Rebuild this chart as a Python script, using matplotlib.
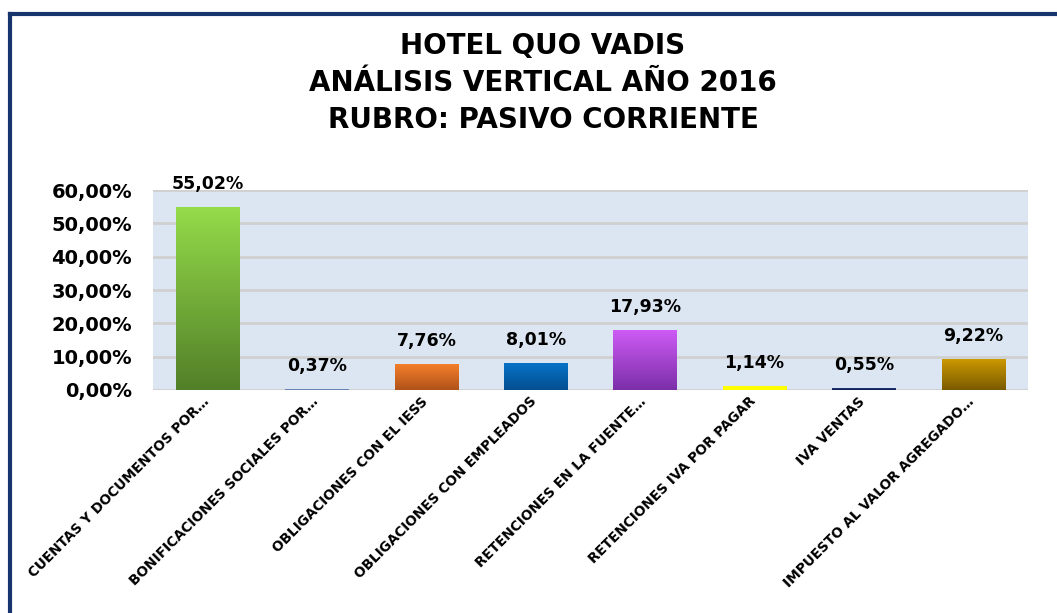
import matplotlib
matplotlib.use("Agg")
import matplotlib.pyplot as plt
import matplotlib.transforms as mtransforms
import numpy as np
from matplotlib.colors import LinearSegmentedColormap
from matplotlib.lines import Line2D
from matplotlib.ticker import FuncFormatter

categories = [
    "CUENTAS Y DOCUMENTOS POR…",
    "BONIFICACIONES SOCIALES POR…",
    "OBLIGACIONES CON EL IESS",
    "OBLIGACIONES CON EMPLEADOS",
    "RETENCIONES EN LA FUENTE…",
    "RETENCIONES IVA POR PAGAR",
    "IVA VENTAS",
    "IMPUESTO AL VALOR AGREGADO…",
]
values = [55.02, 0.37, 7.76, 8.01, 17.93, 1.14, 0.55, 9.22]
labels = ["55,02%", "0,37%", "7,76%", "8,01%", "17,93%", "1,14%", "0,55%", "9,22%"]
top_colors = ["#95DC4A", "#7F9CC8", "#F47F2A", "#0872C8", "#CE5BF5", "#FFFF00", "#1F3A7A", "#CC9900"]
bottom_colors = ["#527F28", "#5F7FB0", "#B0521A", "#044F8F", "#7B2FA8", "#FFFF00", "#0F2050", "#7A5A00"]

plt.rcParams['font.family'] = ['DejaVu Sans']

fig = plt.figure(figsize=(10.57, 6.13), dpi=100)
ax = fig.add_axes([153/1057, 1-390/613, (1028-153)/1057, 200/613])
ax.set_facecolor("#DCE6F2")

x = np.arange(len(categories))
bars = ax.bar(x, values, width=0.58, color=top_colors, zorder=3)

grad = np.linspace(1, 0, 256).reshape(-1, 1)
for b, tc, bc in zip(bars, top_colors, bottom_colors):
    cmap = LinearSegmentedColormap.from_list("g", [bc, tc])
    x0, y0 = b.get_x(), b.get_y()
    w, h = b.get_width(), b.get_height()
    im = ax.imshow(grad, cmap=cmap, aspect="auto", extent=(x0, x0 + w, y0, y0 + h),
                   zorder=4, vmin=0, vmax=1)
    im.set_clip_path(b)

ax.set_xlim(-0.5, len(categories) - 0.5)
ax.set_ylim(0, 60)

for xi, v, lab in zip(x, values, labels):
    ax.annotate(lab, (xi, v), xytext=(0, 10), textcoords="offset points",
                ha="center", va="bottom", fontsize=12.5, fontweight="bold", color="#000000")

ax.set_yticks(np.arange(0, 61, 10))
ax.yaxis.set_major_formatter(FuncFormatter(lambda v, p: f"{v:.2f}".replace(".", ",") + "%"))
ax.yaxis.grid(True, color="#D0D0D0", linewidth=2, zorder=0)
ax.set_axisbelow(True)
for lbl in ax.get_yticklabels():
    lbl.set_fontsize(14)
    lbl.set_fontweight("bold")
ax.tick_params(axis="y", length=0, pad=15)
ax.tick_params(axis="x", length=0, pad=3)
ax.set_xticks(x)
ax.set_xticklabels(categories, rotation=45, ha="right", va="top", rotation_mode="anchor",
                   fontsize=9.8, fontweight="bold")
offset = mtransforms.ScaledTranslation(-6/100, 0, fig.dpi_scale_trans)
for lbl in ax.get_xticklabels():
    lbl.set_transform(lbl.get_transform() + offset)
for s in ax.spines.values():
    s.set_visible(False)
ax.axhline(0, color="#D0D0D0", linewidth=2, zorder=2)

fig.text(543/1057, 1 - 83/613, "HOTEL QUO VADIS\nANÁLISIS VERTICAL AÑO 2016\nRUBRO: PASIVO CORRIENTE",
         ha="center", va="center", fontsize=20, fontweight="bold", linespacing=1.42)

# outer frame (top and left edges visible)
fig.add_artist(Line2D([10/1057, 10/1057], [0, 1 - 14/613], transform=fig.transFigure,
                      color="#17346E", linewidth=3))
fig.add_artist(Line2D([10/1057, 1], [1 - 14/613, 1 - 14/613], transform=fig.transFigure,
                      color="#17346E", linewidth=3))

fig.savefig("out.png", dpi=100)
